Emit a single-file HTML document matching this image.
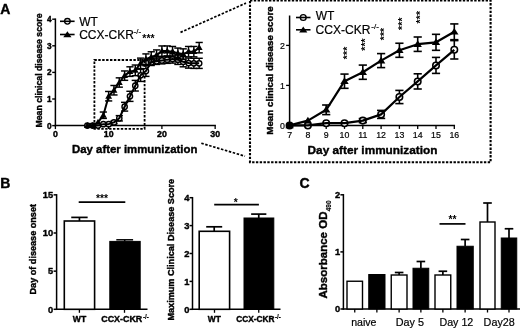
<!DOCTYPE html>
<html><head><meta charset="utf-8"><title>Figure</title>
<style>html,body{margin:0;padding:0;background:#fff;overflow:hidden}svg{display:block}</style>
</head><body>
<svg width="520" height="329" viewBox="0 0 520 329" font-family="'Liberation Sans', sans-serif" fill="#000">
<rect width="520" height="329" fill="#fff"/>
<g filter="url(#bl)">
<text x="0.30" y="13.80" font-size="14" font-weight="bold" text-anchor="start"  stroke="#000" stroke-width="0.4" stroke-linejoin="round">A</text>
<line x1="55.40" y1="126.35" x2="55.40" y2="18.45" stroke="#000" stroke-width="1.5" />
<line x1="54.65" y1="125.60" x2="215.90" y2="125.60" stroke="#000" stroke-width="1.5" />
<line x1="52.20" y1="125.60" x2="55.40" y2="125.60" stroke="#000" stroke-width="1.4" />
<text x="51.70" y="128.60" font-size="8.3" font-weight="bold" text-anchor="end"  stroke="#000" stroke-width="0.4" stroke-linejoin="round">0</text>
<line x1="52.20" y1="99.00" x2="55.40" y2="99.00" stroke="#000" stroke-width="1.4" />
<text x="51.70" y="102.00" font-size="8.3" font-weight="bold" text-anchor="end"  stroke="#000" stroke-width="0.4" stroke-linejoin="round">1</text>
<line x1="52.20" y1="72.40" x2="55.40" y2="72.40" stroke="#000" stroke-width="1.4" />
<text x="51.70" y="75.40" font-size="8.3" font-weight="bold" text-anchor="end"  stroke="#000" stroke-width="0.4" stroke-linejoin="round">2</text>
<line x1="52.20" y1="45.80" x2="55.40" y2="45.80" stroke="#000" stroke-width="1.4" />
<text x="51.70" y="48.80" font-size="8.3" font-weight="bold" text-anchor="end"  stroke="#000" stroke-width="0.4" stroke-linejoin="round">3</text>
<line x1="52.20" y1="19.20" x2="55.40" y2="19.20" stroke="#000" stroke-width="1.4" />
<text x="51.70" y="22.20" font-size="8.3" font-weight="bold" text-anchor="end"  stroke="#000" stroke-width="0.4" stroke-linejoin="round">4</text>
<line x1="55.40" y1="125.60" x2="55.40" y2="129.10" stroke="#000" stroke-width="1.3" />
<text x="55.40" y="136.70" font-size="8.8" font-weight="bold" text-anchor="middle"  stroke="#000" stroke-width="0.4" stroke-linejoin="round">0</text>
<line x1="108.65" y1="125.60" x2="108.65" y2="129.10" stroke="#000" stroke-width="1.3" />
<text x="108.65" y="136.70" font-size="8.8" font-weight="bold" text-anchor="middle"  stroke="#000" stroke-width="0.4" stroke-linejoin="round">10</text>
<line x1="161.90" y1="125.60" x2="161.90" y2="129.10" stroke="#000" stroke-width="1.3" />
<text x="161.90" y="136.70" font-size="8.8" font-weight="bold" text-anchor="middle"  stroke="#000" stroke-width="0.4" stroke-linejoin="round">20</text>
<line x1="215.15" y1="125.60" x2="215.15" y2="129.10" stroke="#000" stroke-width="1.3" />
<text x="215.15" y="136.70" font-size="8.8" font-weight="bold" text-anchor="middle"  stroke="#000" stroke-width="0.4" stroke-linejoin="round">30</text>
<text x="42.30" y="70.50" font-size="8.7" font-weight="bold" text-anchor="middle" transform="rotate(-90 42.30 70.50)"  stroke="#000" stroke-width="0.4" stroke-linejoin="round">Mean clinical disease score</text>
<text x="134.70" y="153.40" font-size="11.4" font-weight="bold" text-anchor="middle"  stroke="#000" stroke-width="0.4" stroke-linejoin="round">Day after immunization</text>
<rect x="94.4" y="60" width="50.2" height="68.8" fill="none" stroke="#000" stroke-width="1.8" stroke-dasharray="2.4 1.5"/>
<line x1="180.50" y1="32.40" x2="246.00" y2="3.10" stroke="#000" stroke-width="1.7" stroke-dasharray="2.5 1.6"/>
<line x1="201.30" y1="143.20" x2="245.00" y2="156.20" stroke="#000" stroke-width="1.7" stroke-dasharray="2.5 1.6"/>
<line x1="113.97" y1="121.08" x2="113.97" y2="123.74" stroke="#000" stroke-width="1.45" />
<line x1="110.38" y1="121.08" x2="117.57" y2="121.08" stroke="#000" stroke-width="1.45" />
<line x1="110.38" y1="123.74" x2="117.57" y2="123.74" stroke="#000" stroke-width="1.45" />
<line x1="119.30" y1="115.62" x2="119.30" y2="120.94" stroke="#000" stroke-width="1.45" />
<line x1="115.70" y1="115.62" x2="122.90" y2="115.62" stroke="#000" stroke-width="1.45" />
<line x1="115.70" y1="120.94" x2="122.90" y2="120.94" stroke="#000" stroke-width="1.45" />
<line x1="124.62" y1="102.33" x2="124.62" y2="111.10" stroke="#000" stroke-width="1.45" />
<line x1="121.03" y1="102.33" x2="128.22" y2="102.33" stroke="#000" stroke-width="1.45" />
<line x1="121.03" y1="111.10" x2="128.22" y2="111.10" stroke="#000" stroke-width="1.45" />
<line x1="129.95" y1="91.29" x2="129.95" y2="101.39" stroke="#000" stroke-width="1.45" />
<line x1="126.35" y1="91.29" x2="133.55" y2="91.29" stroke="#000" stroke-width="1.45" />
<line x1="126.35" y1="101.39" x2="133.55" y2="101.39" stroke="#000" stroke-width="1.45" />
<line x1="135.28" y1="80.38" x2="135.28" y2="91.02" stroke="#000" stroke-width="1.45" />
<line x1="131.68" y1="80.38" x2="138.88" y2="80.38" stroke="#000" stroke-width="1.45" />
<line x1="131.68" y1="91.02" x2="138.88" y2="91.02" stroke="#000" stroke-width="1.45" />
<line x1="140.60" y1="69.21" x2="140.60" y2="81.44" stroke="#000" stroke-width="1.45" />
<line x1="137.00" y1="69.21" x2="144.20" y2="69.21" stroke="#000" stroke-width="1.45" />
<line x1="137.00" y1="81.44" x2="144.20" y2="81.44" stroke="#000" stroke-width="1.45" />
<line x1="145.93" y1="65.75" x2="145.93" y2="76.39" stroke="#000" stroke-width="1.45" />
<line x1="142.33" y1="65.75" x2="149.53" y2="65.75" stroke="#000" stroke-width="1.45" />
<line x1="142.33" y1="76.39" x2="149.53" y2="76.39" stroke="#000" stroke-width="1.45" />
<line x1="151.25" y1="59.10" x2="151.25" y2="65.48" stroke="#000" stroke-width="1.45" />
<line x1="147.65" y1="59.10" x2="154.85" y2="59.10" stroke="#000" stroke-width="1.45" />
<line x1="147.65" y1="65.48" x2="154.85" y2="65.48" stroke="#000" stroke-width="1.45" />
<line x1="156.57" y1="58.04" x2="156.57" y2="64.42" stroke="#000" stroke-width="1.45" />
<line x1="152.97" y1="58.04" x2="160.17" y2="58.04" stroke="#000" stroke-width="1.45" />
<line x1="152.97" y1="64.42" x2="160.17" y2="64.42" stroke="#000" stroke-width="1.45" />
<line x1="161.90" y1="56.97" x2="161.90" y2="63.89" stroke="#000" stroke-width="1.45" />
<line x1="158.30" y1="56.97" x2="165.50" y2="56.97" stroke="#000" stroke-width="1.45" />
<line x1="158.30" y1="63.89" x2="165.50" y2="63.89" stroke="#000" stroke-width="1.45" />
<line x1="167.22" y1="55.91" x2="167.22" y2="63.36" stroke="#000" stroke-width="1.45" />
<line x1="163.62" y1="55.91" x2="170.82" y2="55.91" stroke="#000" stroke-width="1.45" />
<line x1="163.62" y1="63.36" x2="170.82" y2="63.36" stroke="#000" stroke-width="1.45" />
<line x1="172.55" y1="55.11" x2="172.55" y2="63.09" stroke="#000" stroke-width="1.45" />
<line x1="168.95" y1="55.11" x2="176.15" y2="55.11" stroke="#000" stroke-width="1.45" />
<line x1="168.95" y1="63.09" x2="176.15" y2="63.09" stroke="#000" stroke-width="1.45" />
<line x1="177.88" y1="54.84" x2="177.88" y2="64.42" stroke="#000" stroke-width="1.45" />
<line x1="174.28" y1="54.84" x2="181.47" y2="54.84" stroke="#000" stroke-width="1.45" />
<line x1="174.28" y1="64.42" x2="181.47" y2="64.42" stroke="#000" stroke-width="1.45" />
<line x1="183.20" y1="56.71" x2="183.20" y2="66.81" stroke="#000" stroke-width="1.45" />
<line x1="179.60" y1="56.71" x2="186.80" y2="56.71" stroke="#000" stroke-width="1.45" />
<line x1="179.60" y1="66.81" x2="186.80" y2="66.81" stroke="#000" stroke-width="1.45" />
<line x1="188.53" y1="58.04" x2="188.53" y2="68.14" stroke="#000" stroke-width="1.45" />
<line x1="184.93" y1="58.04" x2="192.12" y2="58.04" stroke="#000" stroke-width="1.45" />
<line x1="184.93" y1="68.14" x2="192.12" y2="68.14" stroke="#000" stroke-width="1.45" />
<line x1="193.85" y1="58.30" x2="193.85" y2="68.41" stroke="#000" stroke-width="1.45" />
<line x1="190.25" y1="58.30" x2="197.45" y2="58.30" stroke="#000" stroke-width="1.45" />
<line x1="190.25" y1="68.41" x2="197.45" y2="68.41" stroke="#000" stroke-width="1.45" />
<line x1="199.18" y1="58.30" x2="199.18" y2="68.41" stroke="#000" stroke-width="1.45" />
<line x1="195.58" y1="58.30" x2="202.78" y2="58.30" stroke="#000" stroke-width="1.45" />
<line x1="195.58" y1="68.41" x2="202.78" y2="68.41" stroke="#000" stroke-width="1.45" />
<circle cx="87.35" cy="125.60" r="2.65" fill="#fff" stroke="#000" stroke-width="1.4"/>
<circle cx="92.67" cy="125.60" r="2.65" fill="#fff" stroke="#000" stroke-width="1.4"/>
<circle cx="98.00" cy="125.60" r="2.65" fill="#fff" stroke="#000" stroke-width="1.4"/>
<circle cx="103.33" cy="124.14" r="2.65" fill="#fff" stroke="#000" stroke-width="1.4"/>
<circle cx="108.65" cy="124.14" r="2.65" fill="#fff" stroke="#000" stroke-width="1.4"/>
<circle cx="113.97" cy="122.41" r="2.65" fill="#fff" stroke="#000" stroke-width="1.4"/>
<circle cx="119.30" cy="118.28" r="2.65" fill="#fff" stroke="#000" stroke-width="1.4"/>
<circle cx="124.62" cy="106.71" r="2.65" fill="#fff" stroke="#000" stroke-width="1.4"/>
<circle cx="129.95" cy="96.34" r="2.65" fill="#fff" stroke="#000" stroke-width="1.4"/>
<circle cx="135.28" cy="85.70" r="2.65" fill="#fff" stroke="#000" stroke-width="1.4"/>
<circle cx="140.60" cy="75.33" r="2.65" fill="#fff" stroke="#000" stroke-width="1.4"/>
<circle cx="145.93" cy="71.07" r="2.65" fill="#fff" stroke="#000" stroke-width="1.4"/>
<circle cx="151.25" cy="62.29" r="2.65" fill="#fff" stroke="#000" stroke-width="1.4"/>
<circle cx="156.57" cy="61.23" r="2.65" fill="#fff" stroke="#000" stroke-width="1.4"/>
<circle cx="161.90" cy="60.43" r="2.65" fill="#fff" stroke="#000" stroke-width="1.4"/>
<circle cx="167.22" cy="59.63" r="2.65" fill="#fff" stroke="#000" stroke-width="1.4"/>
<circle cx="172.55" cy="59.10" r="2.65" fill="#fff" stroke="#000" stroke-width="1.4"/>
<circle cx="177.88" cy="59.63" r="2.65" fill="#fff" stroke="#000" stroke-width="1.4"/>
<circle cx="183.20" cy="61.76" r="2.65" fill="#fff" stroke="#000" stroke-width="1.4"/>
<circle cx="188.53" cy="63.09" r="2.65" fill="#fff" stroke="#000" stroke-width="1.4"/>
<circle cx="193.85" cy="63.36" r="2.65" fill="#fff" stroke="#000" stroke-width="1.4"/>
<circle cx="199.18" cy="63.36" r="2.65" fill="#fff" stroke="#000" stroke-width="1.4"/>
<polyline points="87.35,125.60 92.67,125.60 98.00,125.60 103.33,124.14 108.65,124.14 113.97,122.41 119.30,118.28 124.62,106.71 129.95,96.34 135.28,85.70 140.60,75.33 145.93,71.07 151.25,62.29 156.57,61.23 161.90,60.43 167.22,59.63 172.55,59.10 177.88,59.63 183.20,61.76 188.53,63.09 193.85,63.36 199.18,63.36" fill="none" stroke="#000" stroke-width="2.0" stroke-linejoin="round"/>
<line x1="103.33" y1="112.03" x2="103.33" y2="118.42" stroke="#000" stroke-width="1.45" />
<line x1="99.73" y1="112.03" x2="106.92" y2="112.03" stroke="#000" stroke-width="1.45" />
<line x1="99.73" y1="118.42" x2="106.92" y2="118.42" stroke="#000" stroke-width="1.45" />
<line x1="108.65" y1="91.47" x2="108.65" y2="100.94" stroke="#000" stroke-width="1.45" />
<line x1="105.05" y1="91.47" x2="112.25" y2="91.47" stroke="#000" stroke-width="1.45" />
<line x1="105.05" y1="100.94" x2="112.25" y2="100.94" stroke="#000" stroke-width="1.45" />
<line x1="113.97" y1="85.49" x2="113.97" y2="94.96" stroke="#000" stroke-width="1.45" />
<line x1="110.38" y1="85.49" x2="117.57" y2="85.49" stroke="#000" stroke-width="1.45" />
<line x1="110.38" y1="94.96" x2="117.57" y2="94.96" stroke="#000" stroke-width="1.45" />
<line x1="119.30" y1="77.85" x2="119.30" y2="87.16" stroke="#000" stroke-width="1.45" />
<line x1="115.70" y1="77.85" x2="122.90" y2="77.85" stroke="#000" stroke-width="1.45" />
<line x1="115.70" y1="87.16" x2="122.90" y2="87.16" stroke="#000" stroke-width="1.45" />
<line x1="124.62" y1="70.96" x2="124.62" y2="80.33" stroke="#000" stroke-width="1.45" />
<line x1="121.03" y1="70.96" x2="128.22" y2="70.96" stroke="#000" stroke-width="1.45" />
<line x1="121.03" y1="80.33" x2="128.22" y2="80.33" stroke="#000" stroke-width="1.45" />
<line x1="129.95" y1="66.81" x2="129.95" y2="76.39" stroke="#000" stroke-width="1.45" />
<line x1="126.35" y1="66.81" x2="133.55" y2="66.81" stroke="#000" stroke-width="1.45" />
<line x1="126.35" y1="76.39" x2="133.55" y2="76.39" stroke="#000" stroke-width="1.45" />
<line x1="135.28" y1="65.03" x2="135.28" y2="75.67" stroke="#000" stroke-width="1.45" />
<line x1="131.68" y1="65.03" x2="138.88" y2="65.03" stroke="#000" stroke-width="1.45" />
<line x1="131.68" y1="75.67" x2="138.88" y2="75.67" stroke="#000" stroke-width="1.45" />
<line x1="140.60" y1="58.12" x2="140.60" y2="68.60" stroke="#000" stroke-width="1.45" />
<line x1="137.00" y1="58.12" x2="144.20" y2="58.12" stroke="#000" stroke-width="1.45" />
<line x1="137.00" y1="68.60" x2="144.20" y2="68.60" stroke="#000" stroke-width="1.45" />
<line x1="145.93" y1="53.91" x2="145.93" y2="64.29" stroke="#000" stroke-width="1.45" />
<line x1="142.33" y1="53.91" x2="149.53" y2="53.91" stroke="#000" stroke-width="1.45" />
<line x1="142.33" y1="64.29" x2="149.53" y2="64.29" stroke="#000" stroke-width="1.45" />
<line x1="151.25" y1="51.78" x2="151.25" y2="62.16" stroke="#000" stroke-width="1.45" />
<line x1="147.65" y1="51.78" x2="154.85" y2="51.78" stroke="#000" stroke-width="1.45" />
<line x1="147.65" y1="62.16" x2="154.85" y2="62.16" stroke="#000" stroke-width="1.45" />
<line x1="156.57" y1="49.92" x2="156.57" y2="60.30" stroke="#000" stroke-width="1.45" />
<line x1="152.97" y1="49.92" x2="160.17" y2="49.92" stroke="#000" stroke-width="1.45" />
<line x1="152.97" y1="60.30" x2="160.17" y2="60.30" stroke="#000" stroke-width="1.45" />
<line x1="161.90" y1="45.93" x2="161.90" y2="56.31" stroke="#000" stroke-width="1.45" />
<line x1="158.30" y1="45.93" x2="165.50" y2="45.93" stroke="#000" stroke-width="1.45" />
<line x1="158.30" y1="56.31" x2="165.50" y2="56.31" stroke="#000" stroke-width="1.45" />
<line x1="167.22" y1="45.93" x2="167.22" y2="56.31" stroke="#000" stroke-width="1.45" />
<line x1="163.62" y1="45.93" x2="170.82" y2="45.93" stroke="#000" stroke-width="1.45" />
<line x1="163.62" y1="56.31" x2="170.82" y2="56.31" stroke="#000" stroke-width="1.45" />
<line x1="172.55" y1="46.47" x2="172.55" y2="56.84" stroke="#000" stroke-width="1.45" />
<line x1="168.95" y1="46.47" x2="176.15" y2="46.47" stroke="#000" stroke-width="1.45" />
<line x1="168.95" y1="56.84" x2="176.15" y2="56.84" stroke="#000" stroke-width="1.45" />
<line x1="177.88" y1="48.06" x2="177.88" y2="58.43" stroke="#000" stroke-width="1.45" />
<line x1="174.28" y1="48.06" x2="181.47" y2="48.06" stroke="#000" stroke-width="1.45" />
<line x1="174.28" y1="58.43" x2="181.47" y2="58.43" stroke="#000" stroke-width="1.45" />
<line x1="183.20" y1="48.86" x2="183.20" y2="59.23" stroke="#000" stroke-width="1.45" />
<line x1="179.60" y1="48.86" x2="186.80" y2="48.86" stroke="#000" stroke-width="1.45" />
<line x1="179.60" y1="59.23" x2="186.80" y2="59.23" stroke="#000" stroke-width="1.45" />
<line x1="188.53" y1="46.47" x2="188.53" y2="56.84" stroke="#000" stroke-width="1.45" />
<line x1="184.93" y1="46.47" x2="192.12" y2="46.47" stroke="#000" stroke-width="1.45" />
<line x1="184.93" y1="56.84" x2="192.12" y2="56.84" stroke="#000" stroke-width="1.45" />
<line x1="193.85" y1="46.47" x2="193.85" y2="56.84" stroke="#000" stroke-width="1.45" />
<line x1="190.25" y1="46.47" x2="197.45" y2="46.47" stroke="#000" stroke-width="1.45" />
<line x1="190.25" y1="56.84" x2="197.45" y2="56.84" stroke="#000" stroke-width="1.45" />
<line x1="199.18" y1="42.47" x2="199.18" y2="52.85" stroke="#000" stroke-width="1.45" />
<line x1="195.58" y1="42.47" x2="202.78" y2="42.47" stroke="#000" stroke-width="1.45" />
<line x1="195.58" y1="52.85" x2="202.78" y2="52.85" stroke="#000" stroke-width="1.45" />
<polygon points="87.35,122.03 83.95,128.05 90.75,128.05" fill="#000"/>
<polygon points="92.67,122.03 89.27,128.05 96.08,128.05" fill="#000"/>
<polygon points="98.00,118.84 94.60,124.86 101.40,124.86" fill="#000"/>
<polygon points="103.33,111.66 99.92,117.67 106.73,117.67" fill="#000"/>
<polygon points="108.65,92.64 105.25,98.65 112.05,98.65" fill="#000"/>
<polygon points="113.97,86.65 110.57,92.67 117.38,92.67" fill="#000"/>
<polygon points="119.30,78.94 115.90,84.96 122.70,84.96" fill="#000"/>
<polygon points="124.62,72.08 121.22,78.09 128.03,78.09" fill="#000"/>
<polygon points="129.95,68.03 126.55,74.05 133.35,74.05" fill="#000"/>
<polygon points="135.28,66.78 131.88,72.80 138.68,72.80" fill="#000"/>
<polygon points="140.60,59.79 137.20,65.80 144.00,65.80" fill="#000"/>
<polygon points="145.93,55.53 142.53,61.55 149.33,61.55" fill="#000"/>
<polygon points="151.25,53.40 147.85,59.42 154.65,59.42" fill="#000"/>
<polygon points="156.57,51.54 153.17,57.56 159.97,57.56" fill="#000"/>
<polygon points="161.90,47.55 158.50,53.57 165.30,53.57" fill="#000"/>
<polygon points="167.22,47.55 163.82,53.57 170.62,53.57" fill="#000"/>
<polygon points="172.55,48.08 169.15,54.10 175.95,54.10" fill="#000"/>
<polygon points="177.88,49.68 174.47,55.70 181.28,55.70" fill="#000"/>
<polygon points="183.20,50.48 179.80,56.49 186.60,56.49" fill="#000"/>
<polygon points="188.53,48.08 185.12,54.10 191.93,54.10" fill="#000"/>
<polygon points="193.85,48.08 190.45,54.10 197.25,54.10" fill="#000"/>
<polygon points="199.18,44.09 195.78,50.11 202.58,50.11" fill="#000"/>
<polyline points="87.35,125.60 92.67,125.60 98.00,122.41 103.33,115.23 108.65,96.21 113.97,90.22 119.30,82.51 124.62,75.65 129.95,71.60 135.28,70.35 140.60,63.36 145.93,59.10 151.25,56.97 156.57,55.11 161.90,51.12 167.22,51.12 172.55,51.65 177.88,53.25 183.20,54.05 188.53,51.65 193.85,51.65 199.18,47.66" fill="none" stroke="#000" stroke-width="2.0" stroke-linejoin="round"/>
<circle cx="67.40" cy="21.30" r="2.8" fill="#fff" stroke="#000" stroke-width="1.3"/>
<line x1="60.00" y1="21.30" x2="74.60" y2="21.30" stroke="#000" stroke-width="1.6" />
<line x1="60.00" y1="34.50" x2="74.60" y2="34.50" stroke="#000" stroke-width="1.6" />
<polygon points="67.40,31.20 63.30,37.20 71.50,37.20" fill="#000"/>
<text x="79.20" y="25.50" font-size="12" text-anchor="start"  stroke="#000" stroke-width="0.2" stroke-linejoin="round">WT</text>
<text x="79.20" y="38.90" font-size="12" text-anchor="start"  stroke="#000" stroke-width="0.2" stroke-linejoin="round">CCX-CKR</text>
<text x="133.60" y="34.20" font-size="8" text-anchor="start"  stroke="#000" stroke-width="0.2" stroke-linejoin="round">-/-</text>
<text x="142.30" y="41.50" font-size="10.5" font-weight="bold" text-anchor="start" >***</text>
<rect x="250" y="0.5" width="240.6" height="161.7" fill="none" stroke="#000" stroke-width="2.1" stroke-dasharray="2.4 1.4"/>
<line x1="289.60" y1="126.15" x2="289.60" y2="15.50" stroke="#000" stroke-width="1.5" />
<line x1="288.85" y1="125.40" x2="455.05" y2="125.40" stroke="#000" stroke-width="1.5" />
<line x1="286.10" y1="125.40" x2="289.60" y2="125.40" stroke="#000" stroke-width="1.3" />
<text x="284.80" y="128.50" font-size="8.8" text-anchor="end"  stroke="#000" stroke-width="0.2" stroke-linejoin="round">0</text>
<line x1="286.10" y1="85.40" x2="289.60" y2="85.40" stroke="#000" stroke-width="1.3" />
<text x="284.80" y="88.50" font-size="8.8" text-anchor="end"  stroke="#000" stroke-width="0.2" stroke-linejoin="round">1</text>
<line x1="286.10" y1="45.40" x2="289.60" y2="45.40" stroke="#000" stroke-width="1.3" />
<text x="284.80" y="48.50" font-size="8.8" text-anchor="end"  stroke="#000" stroke-width="0.2" stroke-linejoin="round">2</text>
<line x1="289.60" y1="125.40" x2="289.60" y2="128.90" stroke="#000" stroke-width="1.3" />
<text x="289.60" y="137.60" font-size="8.8" text-anchor="middle"  stroke="#000" stroke-width="0.2" stroke-linejoin="round">7</text>
<line x1="307.90" y1="125.40" x2="307.90" y2="128.90" stroke="#000" stroke-width="1.3" />
<text x="307.90" y="137.60" font-size="8.8" text-anchor="middle"  stroke="#000" stroke-width="0.2" stroke-linejoin="round">8</text>
<line x1="326.20" y1="125.40" x2="326.20" y2="128.90" stroke="#000" stroke-width="1.3" />
<text x="326.20" y="137.60" font-size="8.8" text-anchor="middle"  stroke="#000" stroke-width="0.2" stroke-linejoin="round">9</text>
<line x1="344.50" y1="125.40" x2="344.50" y2="128.90" stroke="#000" stroke-width="1.3" />
<text x="344.50" y="137.60" font-size="8.8" text-anchor="middle"  stroke="#000" stroke-width="0.2" stroke-linejoin="round">10</text>
<line x1="362.80" y1="125.40" x2="362.80" y2="128.90" stroke="#000" stroke-width="1.3" />
<text x="362.80" y="137.60" font-size="8.8" text-anchor="middle"  stroke="#000" stroke-width="0.2" stroke-linejoin="round">11</text>
<line x1="381.10" y1="125.40" x2="381.10" y2="128.90" stroke="#000" stroke-width="1.3" />
<text x="381.10" y="137.60" font-size="8.8" text-anchor="middle"  stroke="#000" stroke-width="0.2" stroke-linejoin="round">12</text>
<line x1="399.40" y1="125.40" x2="399.40" y2="128.90" stroke="#000" stroke-width="1.3" />
<text x="399.40" y="137.60" font-size="8.8" text-anchor="middle"  stroke="#000" stroke-width="0.2" stroke-linejoin="round">13</text>
<line x1="417.70" y1="125.40" x2="417.70" y2="128.90" stroke="#000" stroke-width="1.3" />
<text x="417.70" y="137.60" font-size="8.8" text-anchor="middle"  stroke="#000" stroke-width="0.2" stroke-linejoin="round">14</text>
<line x1="436.00" y1="125.40" x2="436.00" y2="128.90" stroke="#000" stroke-width="1.3" />
<text x="436.00" y="137.60" font-size="8.8" text-anchor="middle"  stroke="#000" stroke-width="0.2" stroke-linejoin="round">15</text>
<line x1="454.30" y1="125.40" x2="454.30" y2="128.90" stroke="#000" stroke-width="1.3" />
<text x="454.30" y="137.60" font-size="8.8" text-anchor="middle"  stroke="#000" stroke-width="0.2" stroke-linejoin="round">16</text>
<text x="272.70" y="70.50" font-size="9.8" font-weight="bold" text-anchor="middle" transform="rotate(-90 272.70 70.50)"  stroke="#000" stroke-width="0.4" stroke-linejoin="round">Mean clinical disease score</text>
<text x="372.50" y="154.30" font-size="11.8" font-weight="bold" text-anchor="middle"  stroke="#000" stroke-width="0.4" stroke-linejoin="round">Day after immunization</text>
<line x1="362.80" y1="118.60" x2="362.80" y2="122.60" stroke="#000" stroke-width="1.6" />
<line x1="358.70" y1="118.60" x2="366.90" y2="118.60" stroke="#000" stroke-width="1.6" />
<line x1="358.70" y1="122.60" x2="366.90" y2="122.60" stroke="#000" stroke-width="1.6" />
<line x1="381.10" y1="110.40" x2="381.10" y2="118.40" stroke="#000" stroke-width="1.6" />
<line x1="377.00" y1="110.40" x2="385.20" y2="110.40" stroke="#000" stroke-width="1.6" />
<line x1="377.00" y1="118.40" x2="385.20" y2="118.40" stroke="#000" stroke-width="1.6" />
<line x1="399.40" y1="90.40" x2="399.40" y2="103.60" stroke="#000" stroke-width="1.6" />
<line x1="395.30" y1="90.40" x2="403.50" y2="90.40" stroke="#000" stroke-width="1.6" />
<line x1="395.30" y1="103.60" x2="403.50" y2="103.60" stroke="#000" stroke-width="1.6" />
<line x1="417.70" y1="73.80" x2="417.70" y2="89.00" stroke="#000" stroke-width="1.6" />
<line x1="413.60" y1="73.80" x2="421.80" y2="73.80" stroke="#000" stroke-width="1.6" />
<line x1="413.60" y1="89.00" x2="421.80" y2="89.00" stroke="#000" stroke-width="1.6" />
<line x1="436.00" y1="57.40" x2="436.00" y2="73.40" stroke="#000" stroke-width="1.6" />
<line x1="431.90" y1="57.40" x2="440.10" y2="57.40" stroke="#000" stroke-width="1.6" />
<line x1="431.90" y1="73.40" x2="440.10" y2="73.40" stroke="#000" stroke-width="1.6" />
<line x1="454.30" y1="40.60" x2="454.30" y2="59.00" stroke="#000" stroke-width="1.6" />
<line x1="450.20" y1="40.60" x2="458.40" y2="40.60" stroke="#000" stroke-width="1.6" />
<line x1="450.20" y1="59.00" x2="458.40" y2="59.00" stroke="#000" stroke-width="1.6" />
<circle cx="289.60" cy="125.40" r="3.25" fill="#fff" stroke="#000" stroke-width="1.55"/>
<circle cx="307.90" cy="125.40" r="3.25" fill="#fff" stroke="#000" stroke-width="1.55"/>
<circle cx="326.20" cy="123.20" r="3.25" fill="#fff" stroke="#000" stroke-width="1.55"/>
<circle cx="344.50" cy="123.20" r="3.25" fill="#fff" stroke="#000" stroke-width="1.55"/>
<circle cx="362.80" cy="120.60" r="3.25" fill="#fff" stroke="#000" stroke-width="1.55"/>
<circle cx="381.10" cy="114.40" r="3.25" fill="#fff" stroke="#000" stroke-width="1.55"/>
<circle cx="399.40" cy="97.00" r="3.25" fill="#fff" stroke="#000" stroke-width="1.55"/>
<circle cx="417.70" cy="81.40" r="3.25" fill="#fff" stroke="#000" stroke-width="1.55"/>
<circle cx="436.00" cy="65.40" r="3.25" fill="#fff" stroke="#000" stroke-width="1.55"/>
<circle cx="454.30" cy="49.80" r="3.25" fill="#fff" stroke="#000" stroke-width="1.55"/>
<polyline points="289.60,125.40 307.90,125.40 326.20,123.20 344.50,123.20 362.80,120.60 381.10,114.40 399.40,97.00 417.70,81.40 436.00,65.40 454.30,49.80" fill="none" stroke="#000" stroke-width="2.2" stroke-linejoin="round"/>
<line x1="326.20" y1="105.00" x2="326.20" y2="114.60" stroke="#000" stroke-width="1.6" />
<line x1="322.10" y1="105.00" x2="330.30" y2="105.00" stroke="#000" stroke-width="1.6" />
<line x1="322.10" y1="114.60" x2="330.30" y2="114.60" stroke="#000" stroke-width="1.6" />
<line x1="344.50" y1="74.08" x2="344.50" y2="88.32" stroke="#000" stroke-width="1.6" />
<line x1="340.40" y1="74.08" x2="348.60" y2="74.08" stroke="#000" stroke-width="1.6" />
<line x1="340.40" y1="88.32" x2="348.60" y2="88.32" stroke="#000" stroke-width="1.6" />
<line x1="362.80" y1="65.08" x2="362.80" y2="79.32" stroke="#000" stroke-width="1.6" />
<line x1="358.70" y1="65.08" x2="366.90" y2="65.08" stroke="#000" stroke-width="1.6" />
<line x1="358.70" y1="79.32" x2="366.90" y2="79.32" stroke="#000" stroke-width="1.6" />
<line x1="381.10" y1="53.60" x2="381.10" y2="67.60" stroke="#000" stroke-width="1.6" />
<line x1="377.00" y1="53.60" x2="385.20" y2="53.60" stroke="#000" stroke-width="1.6" />
<line x1="377.00" y1="67.60" x2="385.20" y2="67.60" stroke="#000" stroke-width="1.6" />
<line x1="399.40" y1="43.24" x2="399.40" y2="57.32" stroke="#000" stroke-width="1.6" />
<line x1="395.30" y1="43.24" x2="403.50" y2="43.24" stroke="#000" stroke-width="1.6" />
<line x1="395.30" y1="57.32" x2="403.50" y2="57.32" stroke="#000" stroke-width="1.6" />
<line x1="417.70" y1="37.00" x2="417.70" y2="51.40" stroke="#000" stroke-width="1.6" />
<line x1="413.60" y1="37.00" x2="421.80" y2="37.00" stroke="#000" stroke-width="1.6" />
<line x1="413.60" y1="51.40" x2="421.80" y2="51.40" stroke="#000" stroke-width="1.6" />
<line x1="436.00" y1="34.32" x2="436.00" y2="50.32" stroke="#000" stroke-width="1.6" />
<line x1="431.90" y1="34.32" x2="440.10" y2="34.32" stroke="#000" stroke-width="1.6" />
<line x1="431.90" y1="50.32" x2="440.10" y2="50.32" stroke="#000" stroke-width="1.6" />
<line x1="454.30" y1="23.92" x2="454.30" y2="39.68" stroke="#000" stroke-width="1.6" />
<line x1="450.20" y1="23.92" x2="458.40" y2="23.92" stroke="#000" stroke-width="1.6" />
<line x1="450.20" y1="39.68" x2="458.40" y2="39.68" stroke="#000" stroke-width="1.6" />
<polygon points="289.60,121.50 285.40,128.20 293.80,128.20" fill="#000"/>
<polygon points="307.90,116.70 303.70,123.40 312.10,123.40" fill="#000"/>
<polygon points="326.20,105.90 322.00,112.60 330.40,112.60" fill="#000"/>
<polygon points="344.50,77.30 340.30,84.00 348.70,84.00" fill="#000"/>
<polygon points="362.80,68.30 358.60,75.00 367.00,75.00" fill="#000"/>
<polygon points="381.10,56.70 376.90,63.40 385.30,63.40" fill="#000"/>
<polygon points="399.40,46.38 395.20,53.08 403.60,53.08" fill="#000"/>
<polygon points="417.70,40.30 413.50,47.00 421.90,47.00" fill="#000"/>
<polygon points="436.00,38.42 431.80,45.12 440.20,45.12" fill="#000"/>
<polygon points="454.30,27.90 450.10,34.60 458.50,34.60" fill="#000"/>
<polyline points="289.60,125.40 307.90,120.60 326.20,109.80 344.50,81.20 362.80,72.20 381.10,60.60 399.40,50.28 417.70,44.20 436.00,42.32 454.30,31.80" fill="none" stroke="#000" stroke-width="2.2" stroke-linejoin="round"/>
<circle cx="289.6" cy="125.4" r="3.2" fill="#000"/>
<circle cx="303.25" cy="17.50" r="2.9" fill="#fff" stroke="#000" stroke-width="1.4"/>
<line x1="296.00" y1="17.50" x2="310.50" y2="17.50" stroke="#000" stroke-width="1.6" />
<line x1="296.00" y1="29.80" x2="310.50" y2="29.80" stroke="#000" stroke-width="1.6" />
<polygon points="303.25,26.50 299.15,32.50 307.35,32.50" fill="#000"/>
<text x="315.70" y="20.00" font-size="12" text-anchor="start"  stroke="#000" stroke-width="0.2" stroke-linejoin="round">WT</text>
<text x="315.50" y="34.00" font-size="12.1" text-anchor="start"  stroke="#000" stroke-width="0.2" stroke-linejoin="round">CCX-CKR</text>
<text x="371.30" y="29.30" font-size="8" text-anchor="start"  stroke="#000" stroke-width="0.2" stroke-linejoin="round">-/-</text>
<text x="350.90" y="52.90" font-size="10.3" font-weight="bold" text-anchor="middle" transform="rotate(-90 350.90 52.90)" letter-spacing="0.2">***</text>
<text x="369.20" y="44.50" font-size="10.3" font-weight="bold" text-anchor="middle" transform="rotate(-90 369.20 44.50)" letter-spacing="0.2">***</text>
<text x="387.50" y="34.00" font-size="10.3" font-weight="bold" text-anchor="middle" transform="rotate(-90 387.50 34.00)" letter-spacing="0.2">***</text>
<text x="405.80" y="23.70" font-size="10.3" font-weight="bold" text-anchor="middle" transform="rotate(-90 405.80 23.70)" letter-spacing="0.2">***</text>
<text x="424.10" y="17.10" font-size="10.3" font-weight="bold" text-anchor="middle" transform="rotate(-90 424.10 17.10)" letter-spacing="0.2">***</text>
<text x="0.30" y="188.10" font-size="14" font-weight="bold" text-anchor="start"  stroke="#000" stroke-width="0.4" stroke-linejoin="round">B</text>
<line x1="56.60" y1="310.05" x2="56.60" y2="194.10" stroke="#000" stroke-width="1.5" />
<line x1="55.85" y1="309.30" x2="147.50" y2="309.30" stroke="#000" stroke-width="1.5" />
<line x1="53.60" y1="309.30" x2="56.60" y2="309.30" stroke="#000" stroke-width="1.5" />
<text x="53.20" y="312.60" font-size="9.3" font-weight="bold" text-anchor="end"  stroke="#000" stroke-width="0.4" stroke-linejoin="round">0</text>
<line x1="53.60" y1="271.15" x2="56.60" y2="271.15" stroke="#000" stroke-width="1.5" />
<text x="53.20" y="274.45" font-size="9.3" font-weight="bold" text-anchor="end"  stroke="#000" stroke-width="0.4" stroke-linejoin="round">5</text>
<line x1="53.60" y1="233.00" x2="56.60" y2="233.00" stroke="#000" stroke-width="1.5" />
<text x="53.20" y="236.30" font-size="9.3" font-weight="bold" text-anchor="end"  stroke="#000" stroke-width="0.4" stroke-linejoin="round">10</text>
<line x1="53.60" y1="194.85" x2="56.60" y2="194.85" stroke="#000" stroke-width="1.5" />
<text x="53.20" y="198.15" font-size="9.3" font-weight="bold" text-anchor="end"  stroke="#000" stroke-width="0.4" stroke-linejoin="round">15</text>
<line x1="79.40" y1="309.30" x2="79.40" y2="312.80" stroke="#000" stroke-width="1.3" />
<line x1="124.50" y1="309.30" x2="124.50" y2="312.80" stroke="#000" stroke-width="1.3" />
<rect x="64.3" y="221" width="30.3" height="88.30000000000001" fill="#fff" stroke="#000" stroke-width="1.6"/>
<line x1="79.45" y1="217.40" x2="79.45" y2="221.00" stroke="#000" stroke-width="1.7" />
<line x1="71.25" y1="217.40" x2="87.65" y2="217.40" stroke="#000" stroke-width="1.7" />
<rect x="109.8" y="241.4" width="30.4" height="67.9" fill="#000" stroke="#000" stroke-width="1"/>
<line x1="124.70" y1="239.80" x2="124.70" y2="241.40" stroke="#000" stroke-width="1.5" />
<line x1="116.30" y1="239.80" x2="133.10" y2="239.80" stroke="#000" stroke-width="1.5" />
<line x1="78.70" y1="202.20" x2="125.30" y2="202.20" stroke="#000" stroke-width="1.7" />
<text x="102.00" y="202.20" font-size="10.3" font-weight="bold" text-anchor="middle" >***</text>
<text x="79.50" y="322.30" font-size="8.6" font-weight="bold" text-anchor="middle"  stroke="#000" stroke-width="0.4" stroke-linejoin="round">WT</text>
<text x="101.30" y="322.30" font-size="8.9" font-weight="bold" text-anchor="start"  stroke="#000" stroke-width="0.4" stroke-linejoin="round">CCX-CKR</text>
<text x="143.00" y="319.00" font-size="6.3" font-weight="bold" text-anchor="start"  stroke="#000" stroke-width="0.15" stroke-linejoin="round">-/-</text>
<text x="35.60" y="249.25" font-size="9.1" font-weight="bold" text-anchor="middle" transform="rotate(-90 35.60 249.25)"  stroke="#000" stroke-width="0.4" stroke-linejoin="round">Day of disease onset</text>
<line x1="192.50" y1="310.05" x2="192.50" y2="196.95" stroke="#000" stroke-width="1.5" />
<line x1="191.75" y1="309.30" x2="280.50" y2="309.30" stroke="#000" stroke-width="1.5" />
<line x1="189.50" y1="309.30" x2="192.50" y2="309.30" stroke="#000" stroke-width="1.5" />
<text x="189.30" y="312.60" font-size="9.3" font-weight="bold" text-anchor="end"  stroke="#000" stroke-width="0.4" stroke-linejoin="round">0</text>
<line x1="189.50" y1="281.40" x2="192.50" y2="281.40" stroke="#000" stroke-width="1.5" />
<text x="189.30" y="284.70" font-size="9.3" font-weight="bold" text-anchor="end"  stroke="#000" stroke-width="0.4" stroke-linejoin="round">1</text>
<line x1="189.50" y1="253.50" x2="192.50" y2="253.50" stroke="#000" stroke-width="1.5" />
<text x="189.30" y="256.80" font-size="9.3" font-weight="bold" text-anchor="end"  stroke="#000" stroke-width="0.4" stroke-linejoin="round">2</text>
<line x1="189.50" y1="225.60" x2="192.50" y2="225.60" stroke="#000" stroke-width="1.5" />
<text x="189.30" y="228.90" font-size="9.3" font-weight="bold" text-anchor="end"  stroke="#000" stroke-width="0.4" stroke-linejoin="round">3</text>
<line x1="189.50" y1="197.70" x2="192.50" y2="197.70" stroke="#000" stroke-width="1.5" />
<text x="189.30" y="201.00" font-size="9.3" font-weight="bold" text-anchor="end"  stroke="#000" stroke-width="0.4" stroke-linejoin="round">4</text>
<line x1="214.50" y1="309.30" x2="214.50" y2="312.80" stroke="#000" stroke-width="1.3" />
<line x1="258.75" y1="309.30" x2="258.75" y2="312.80" stroke="#000" stroke-width="1.3" />
<rect x="199.2" y="231.3" width="30.4" height="78.0" fill="#fff" stroke="#000" stroke-width="1.6"/>
<line x1="214.20" y1="226.80" x2="214.20" y2="231.30" stroke="#000" stroke-width="1.7" />
<line x1="206.20" y1="226.80" x2="222.20" y2="226.80" stroke="#000" stroke-width="1.7" />
<rect x="244" y="218" width="29.8" height="91.30000000000001" fill="#000" stroke="#000" stroke-width="1"/>
<line x1="258.75" y1="214.10" x2="258.75" y2="218.00" stroke="#000" stroke-width="1.7" />
<line x1="251.15" y1="214.10" x2="266.35" y2="214.10" stroke="#000" stroke-width="1.7" />
<line x1="214.20" y1="204.70" x2="258.90" y2="204.70" stroke="#000" stroke-width="1.7" />
<text x="235.80" y="205.50" font-size="10.3" font-weight="bold" text-anchor="middle" >*</text>
<text x="214.30" y="321.80" font-size="8.4" font-weight="bold" text-anchor="middle"  stroke="#000" stroke-width="0.4" stroke-linejoin="round">WT</text>
<text x="236.20" y="321.80" font-size="8.3" font-weight="bold" text-anchor="start"  stroke="#000" stroke-width="0.4" stroke-linejoin="round">CCX-CKR</text>
<text x="275.00" y="318.60" font-size="6.3" font-weight="bold" text-anchor="start"  stroke="#000" stroke-width="0.15" stroke-linejoin="round">-/-</text>
<text x="174.00" y="249.70" font-size="9.12" font-weight="bold" text-anchor="middle" transform="rotate(-90 174.00 249.70)"  stroke="#000" stroke-width="0.4" stroke-linejoin="round">Maximum Clinical Disease Score</text>
<text x="299.60" y="188.20" font-size="14" font-weight="bold" text-anchor="start"  stroke="#000" stroke-width="0.4" stroke-linejoin="round">C</text>
<line x1="343.40" y1="309.75" x2="343.40" y2="194.05" stroke="#000" stroke-width="1.5" />
<line x1="342.65" y1="309.00" x2="520.00" y2="309.00" stroke="#000" stroke-width="1.5" />
<line x1="340.40" y1="309.00" x2="343.40" y2="309.00" stroke="#000" stroke-width="1.5" />
<text x="340.20" y="312.30" font-size="9.3" font-weight="bold" text-anchor="end"  stroke="#000" stroke-width="0.4" stroke-linejoin="round">0</text>
<line x1="340.40" y1="251.90" x2="343.40" y2="251.90" stroke="#000" stroke-width="1.5" />
<text x="340.20" y="255.20" font-size="9.3" font-weight="bold" text-anchor="end"  stroke="#000" stroke-width="0.4" stroke-linejoin="round">1</text>
<line x1="340.40" y1="194.80" x2="343.40" y2="194.80" stroke="#000" stroke-width="1.5" />
<text x="340.20" y="198.10" font-size="9.3" font-weight="bold" text-anchor="end"  stroke="#000" stroke-width="0.4" stroke-linejoin="round">2</text>
<line x1="354.75" y1="309.00" x2="354.75" y2="312.50" stroke="#000" stroke-width="1.3" />
<rect x="347" y="281.25" width="15.5" height="27.75" fill="#fff" stroke="#000" stroke-width="1.4"/>
<line x1="376.88" y1="309.00" x2="376.88" y2="312.50" stroke="#000" stroke-width="1.3" />
<rect x="368.75" y="274.5" width="16.25" height="34.5" fill="#000" stroke="#000" stroke-width="1"/>
<line x1="399.12" y1="309.00" x2="399.12" y2="312.50" stroke="#000" stroke-width="1.3" />
<rect x="391.25" y="275" width="15.75" height="34" fill="#fff" stroke="#000" stroke-width="1.4"/>
<line x1="399.12" y1="272.50" x2="399.12" y2="275.00" stroke="#000" stroke-width="1.7" />
<line x1="394.82" y1="272.50" x2="403.43" y2="272.50" stroke="#000" stroke-width="1.7" />
<line x1="420.88" y1="309.00" x2="420.88" y2="312.50" stroke="#000" stroke-width="1.3" />
<rect x="413" y="268.25" width="15.75" height="40.75" fill="#000" stroke="#000" stroke-width="1"/>
<line x1="420.88" y1="261.50" x2="420.88" y2="268.25" stroke="#000" stroke-width="1.7" />
<line x1="416.57" y1="261.50" x2="425.18" y2="261.50" stroke="#000" stroke-width="1.7" />
<line x1="442.88" y1="309.00" x2="442.88" y2="312.50" stroke="#000" stroke-width="1.3" />
<rect x="435" y="275" width="15.75" height="34" fill="#fff" stroke="#000" stroke-width="1.4"/>
<line x1="442.88" y1="271.25" x2="442.88" y2="275.00" stroke="#000" stroke-width="1.7" />
<line x1="438.57" y1="271.25" x2="447.18" y2="271.25" stroke="#000" stroke-width="1.7" />
<line x1="465.12" y1="309.00" x2="465.12" y2="312.50" stroke="#000" stroke-width="1.3" />
<rect x="457" y="246.25" width="16.25" height="62.75" fill="#000" stroke="#000" stroke-width="1"/>
<line x1="465.12" y1="239.50" x2="465.12" y2="246.25" stroke="#000" stroke-width="1.7" />
<line x1="460.82" y1="239.50" x2="469.43" y2="239.50" stroke="#000" stroke-width="1.7" />
<line x1="487.50" y1="309.00" x2="487.50" y2="312.50" stroke="#000" stroke-width="1.3" />
<rect x="480" y="222" width="15" height="87" fill="#fff" stroke="#000" stroke-width="1.4"/>
<line x1="487.50" y1="203.00" x2="487.50" y2="222.00" stroke="#000" stroke-width="1.7" />
<line x1="483.20" y1="203.00" x2="491.80" y2="203.00" stroke="#000" stroke-width="1.7" />
<line x1="509.00" y1="309.00" x2="509.00" y2="312.50" stroke="#000" stroke-width="1.3" />
<rect x="501.25" y="238" width="15.5" height="71" fill="#000" stroke="#000" stroke-width="1"/>
<line x1="509.00" y1="228.75" x2="509.00" y2="238.00" stroke="#000" stroke-width="1.7" />
<line x1="504.70" y1="228.75" x2="513.30" y2="228.75" stroke="#000" stroke-width="1.7" />
<line x1="439.50" y1="223.90" x2="465.50" y2="223.90" stroke="#000" stroke-width="1.7" />
<text x="452.50" y="223.30" font-size="10.3" font-weight="bold" text-anchor="middle" >**</text>
<text x="363.80" y="326.20" font-size="10.6" text-anchor="middle"  stroke="#000" stroke-width="0.2" stroke-linejoin="round">naive</text>
<text x="409.80" y="326.20" font-size="10.8" text-anchor="middle"  stroke="#000" stroke-width="0.2" stroke-linejoin="round">Day 5</text>
<text x="456.40" y="326.20" font-size="10.7" text-anchor="middle"  stroke="#000" stroke-width="0.2" stroke-linejoin="round">Day 12</text>
<text x="499.20" y="326.20" font-size="10.8" text-anchor="middle"  stroke="#000" stroke-width="0.2" stroke-linejoin="round">Day28</text>
<text x="327.40" y="255.00" font-size="11.5" font-weight="bold" text-anchor="middle" transform="rotate(-90 327.40 255.00)"  stroke="#000" stroke-width="0.4" stroke-linejoin="round">Absorbance OD</text>
<text x="331.20" y="211.30" font-size="6.5" font-weight="bold" text-anchor="start" transform="rotate(-90 331.20 211.30)"  stroke="#000" stroke-width="0.15" stroke-linejoin="round">490</text>
</g>
<defs><filter id="bl" x="0" y="0" width="520" height="329" filterUnits="userSpaceOnUse"><feGaussianBlur stdDeviation="0.35"/></filter></defs>
</svg>
</body></html>
